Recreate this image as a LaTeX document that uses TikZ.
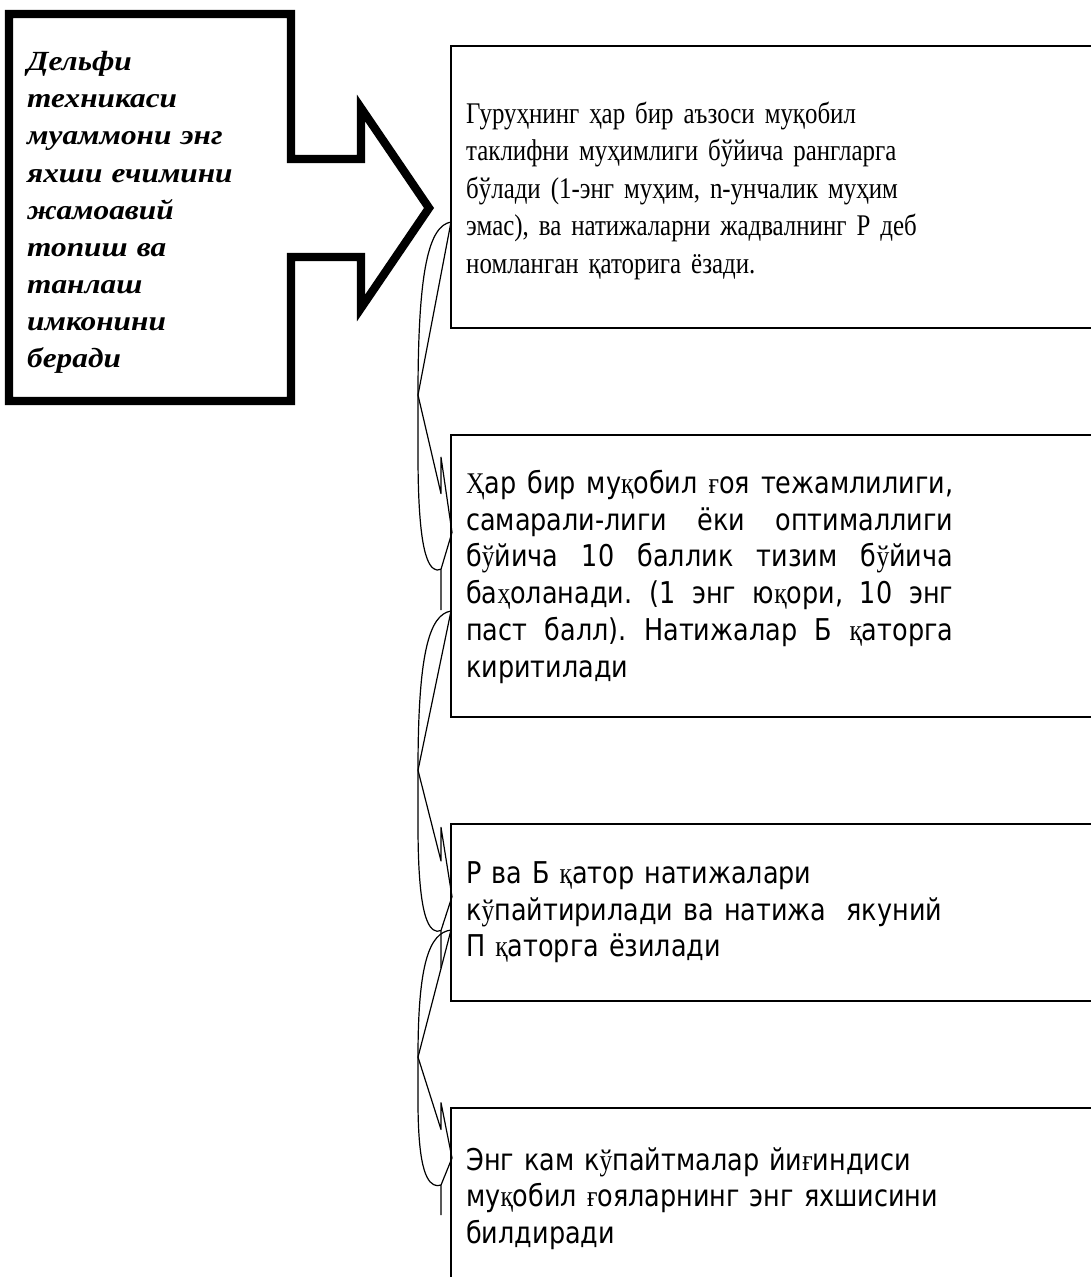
\documentclass[tikz,border=0pt]{standalone}
\usepackage{fontspec}
\setmainfont{Liberation Serif}[FakeStretch=0.83]
\newfontfamily\leftfont{Liberation Serif}[FakeStretch=1.13]
\newfontfamily\dvsans{DejaVu Sans}[FakeStretch=0.85]
\newfontfamily\fbkfont{Liberation Serif}[FakeStretch=0.85]
\newcommand\fb[1]{{\fbkfont #1}}
\frenchspacing
% leaf-shaped connector: #1 name prefix, #2 top y, #3 length
\newcommand\leafcon[3]{%
  \coordinate (#1p)  at (451,#2);
  \coordinate (#1t)  at (418,{#2+0.446*#3});
  \coordinate (#1z1) at (441,{#2+0.70*#3});
  \coordinate (#1z0) at (441,{#2+0.606*#3});
  \coordinate (#1e)  at (452,{#2+0.80*#3});
  \coordinate (#1h)  at (441,{#2+0.895*#3});
  \coordinate (#1f)  at (441,{#2+#3});
  \draw[leafline] (#1p) .. controls (429,{#2+0.01*#3}) and (418,{#2+0.12*#3}) .. (#1t)
     -- (418,{#2+0.6*#3}) .. controls (418,{#2+0.85*#3}) and (428,{#2+0.893*#3}) .. (437,{#2+0.897*#3}) -- (#1h);
  \draw[leafline] (#1p) -- (#1t) -- (#1z1) -- (#1z0) -- (#1e) -- (#1h) -- (#1f);
}
\begin{document}
\begin{tikzpicture}[x=1pt,y=-1pt,
  callout/.style={line width=8.3pt, line join=miter, miter limit=10},
  boxframe/.style={draw, line width=1.6pt, anchor=north west, inner sep=0pt, minimum width=700pt},
  leafline/.style={line width=1.2pt, line join=round},
  lefttext/.style={anchor=base west, inner sep=0pt, text width=262pt, align=left,
    font=\leftfont\fontsize{27.7}{37.1}\selectfont\bfseries\itshape\frenchspacing},
  serbox/.style={anchor=base west, inner sep=0pt, text width=600pt, align=left,
    font=\fontsize{30}{37.5}\selectfont\frenchspacing},
  sansbox/.style={anchor=base west, inner sep=0pt, text width=600pt, align=left,
    font=\dvsans\fontsize{30}{36.8}\selectfont\frenchspacing},
]
\useasboundingbox (0,0) rectangle (1091,1277);
\clip (0,0) rectangle (1091,1277);
% left callout arrow
\draw[callout] (9,14) -- (291,14) -- (291,159) -- (361,159) -- (361,108) -- (429,208)
  -- (361,308) -- (361,257) -- (291,257) -- (291,401) -- (9,401) -- cycle;
\node[lefttext] (lt) at (27,70.7) {Дельфи\\техникаси\\муаммони энг\\яхши ечимини\\жамоавий\\топиш ва\\танлаш\\имконини\\беради};
% boxes
\node[boxframe, minimum height=282pt] (b1) at (450,45) {};
\node[boxframe, minimum height=282pt] (b2) at (450,434) {};
\node[boxframe, minimum height=177pt] (b3) at (450,823) {};
\node[boxframe, minimum height=250pt] (b4) at (450,1107) {};
% texts
\node[serbox] (t1) at (466,123.3) {Гуруҳнинг ҳар бир аъзоси муқобил\\таклифни муҳимлиги бўйича рангларга\\бўлади (1-энг муҳим, n-унчалик муҳим\\эмас), ва натижаларни жадвалнинг Р деб\\номланган қаторига ёзади.};
\node[sansbox, text width=487pt, align=justify] (t2) at (466,493.3) {\fb{Ҳ}ар бир му\fb{қ}обил \fb{ғ}оя тежамлилиги,\linebreak самарали-лиги ёки оптималлиги\linebreak б\fb{ў}йича 10 баллик тизим б\fb{ў}йича\linebreak ба\fb{ҳ}оланади. (1 энг ю\fb{қ}ори, 10 энг\linebreak паст балл). Натижалар Б \fb{қ}аторга\linebreak киритилади};
\node[sansbox] (t3) at (466,883.3) {Р ва Б \fb{қ}атор натижалари\\к\fb{ў}пайтирилади ва натижа\ \ якуний\\П \fb{қ}аторга ёзилади};
\node[sansbox] (t4) at (466,1170) {Энг кам к\fb{ў}пайтмалар йи\fb{ғ}индиси\\му\fb{қ}обил \fb{ғ}ояларнинг энг яхшисини\\билдиради};
% connectors
\leafcon{ca}{222}{388}
\leafcon{cb}{611}{357}
\leafcon{cc}{930}{285}
\end{tikzpicture}
\end{document}
